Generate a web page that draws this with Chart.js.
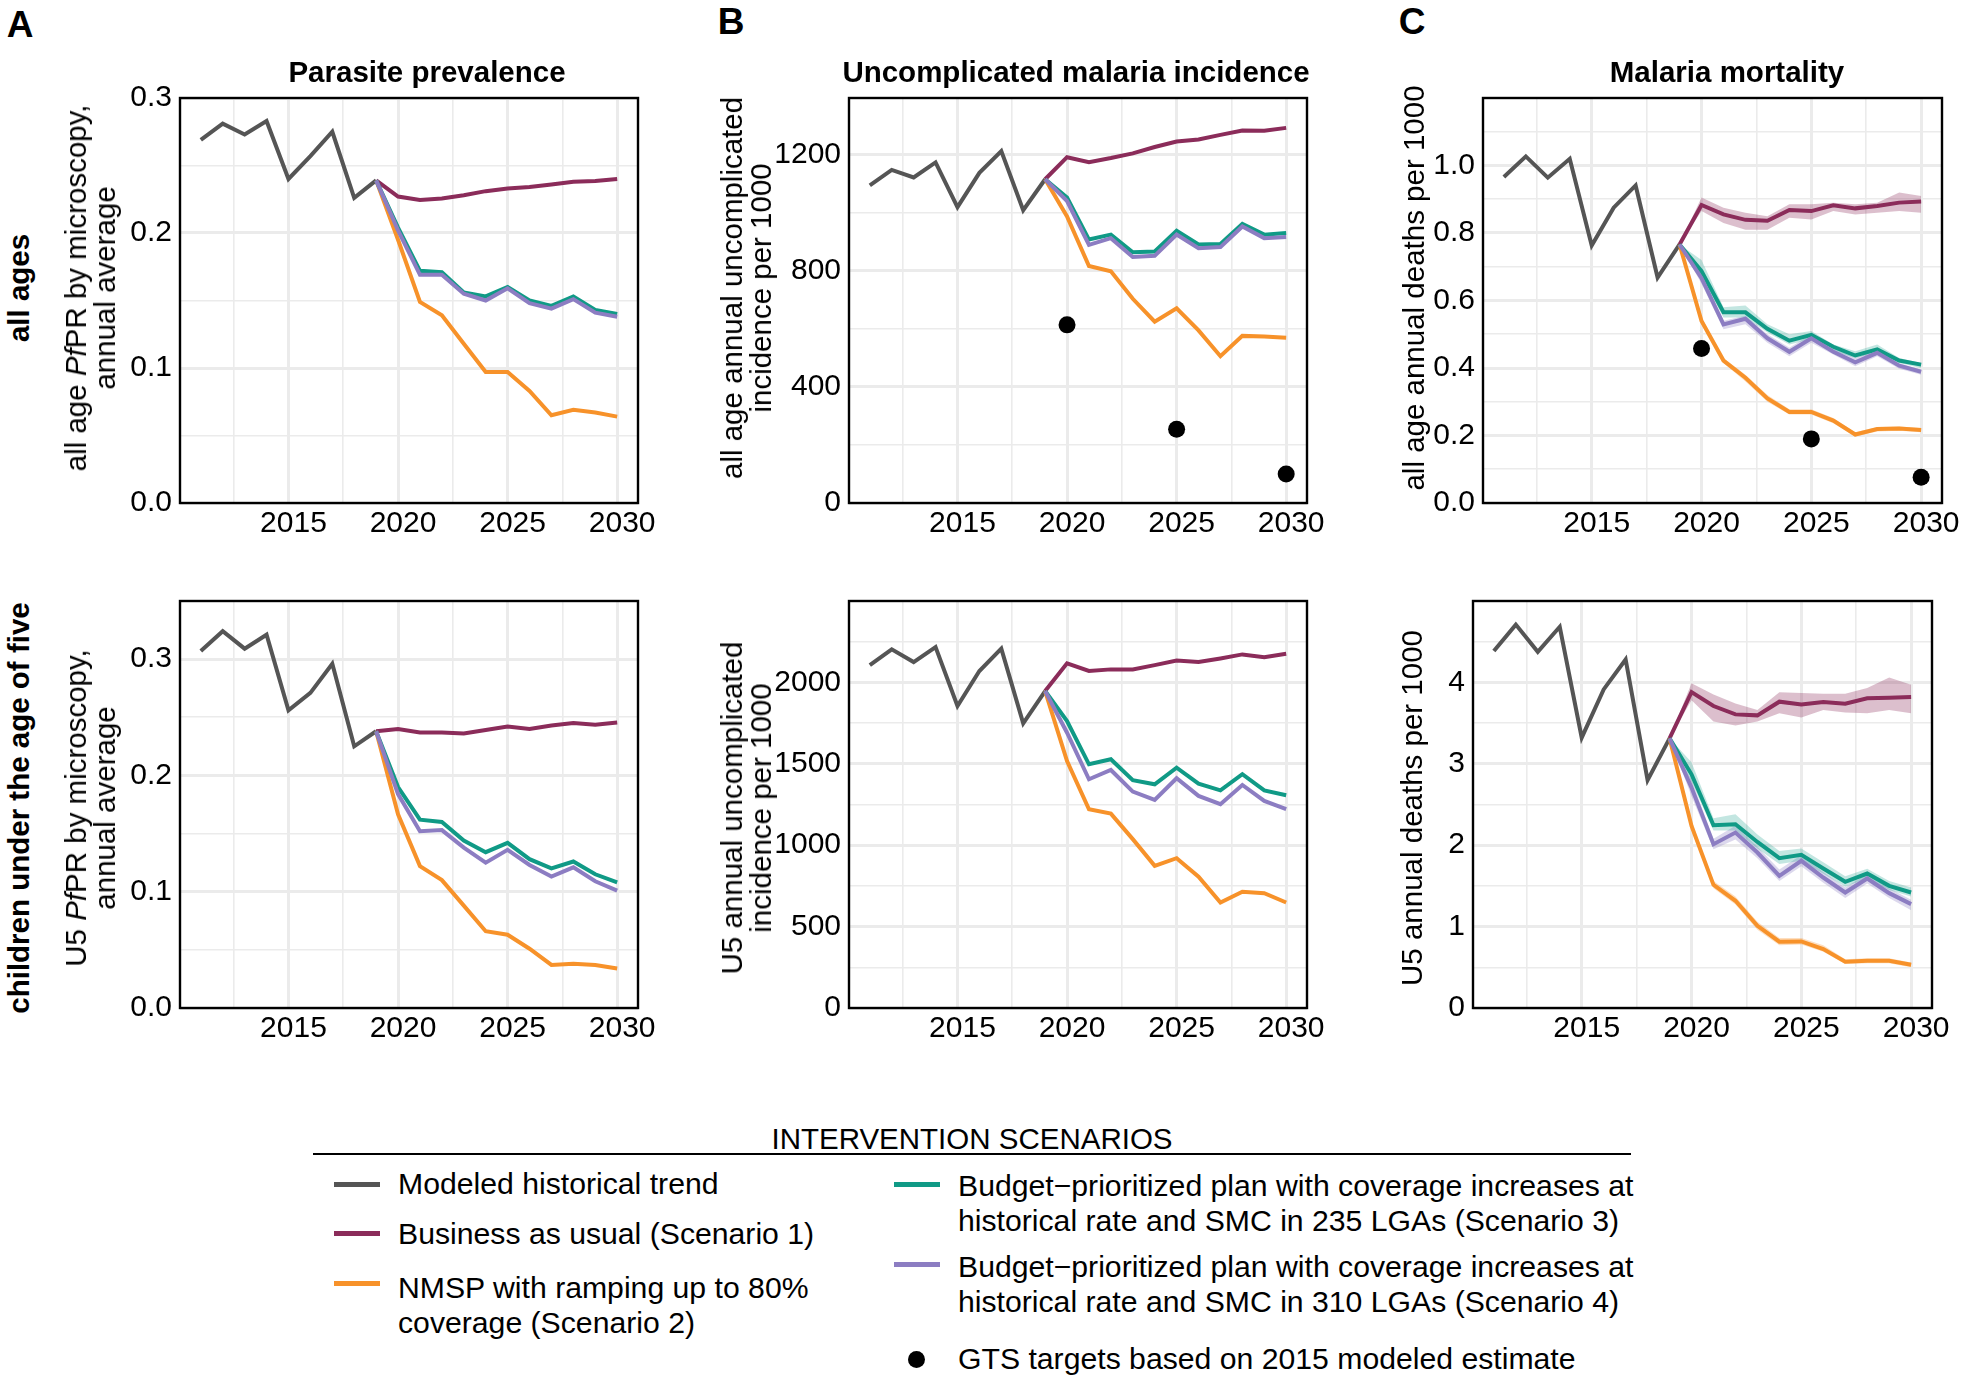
<!DOCTYPE html>
<html>
<head>
<meta charset="utf-8">
<script src="https://cdn.jsdelivr.net/npm/chart.js@4.4.1/dist/chart.umd.min.js"></script>
<style>
  body { margin: 0; background: #fff; }
  #fig { position: relative; width: 1961px; height: 1378px; background: #fff; overflow: hidden;
         font-family: "Liberation Sans", Arial, sans-serif; color: #000; }
  .t { position: absolute; white-space: nowrap; transform: translate(-50%, -50%); line-height: 1; }
  .letter { font-weight: bold; font-size: 37px; }
  .ptitle { font-weight: bold; font-size: 29.5px; }
  .ylab { font-size: 29.5px; line-height: 29px; text-align: center; transform: translate(-50%, -50%) rotate(-90deg); }
  .rowlab { font-weight: bold; font-size: 29.5px; transform: translate(-50%, -50%) rotate(-90deg); }
  .panel { position: absolute; }
  .key { position: absolute; height: 5px; width: 46px; }
  .leg { position: absolute; font-size: 30.2px; line-height: 35px; white-space: nowrap; }
</style>
</head>
<body>
<div id="fig">
  <div class="t letter" style="left:20px;top:24px">A</div>
  <div class="t letter" style="left:731px;top:21px">B</div>
  <div class="t letter" style="left:1412px;top:21px">C</div>

  <div class="t ptitle" style="left:427px;top:72px">Parasite prevalence</div>
  <div class="t ptitle" style="left:1076px;top:72px">Uncomplicated malaria incidence</div>
  <div class="t ptitle" style="left:1727px;top:72px">Malaria mortality</div>

  <div class="t rowlab" style="left:19px;top:288px">all ages</div>
  <div class="t rowlab" style="left:19px;top:808px">children under the age of five</div>

  <div class="t ylab" style="left:90px;top:288px">all age <i>Pf</i>PR by microscopy,<br>annual average</div>
  <div class="t ylab" style="left:746px;top:288px">all age annual uncomplicated<br>incidence per 1000</div>
  <div class="t ylab" style="left:1413px;top:288px">all age annual deaths per 1000</div>
  <div class="t ylab" style="left:90px;top:808px">U5 <i>Pf</i>PR by microscopy,<br>annual average</div>
  <div class="t ylab" style="left:746px;top:808px">U5 annual uncomplicated<br>incidence per 1000</div>
  <div class="t ylab" style="left:1411px;top:808px">U5 annual deaths per 1000</div>

  <div class="t" style="left:972px;top:1139px;font-size:29.5px">INTERVENTION SCENARIOS</div>
  <div style="position:absolute;left:313px;top:1153px;width:1318px;height:2px;background:#000"></div>

  <div class="key" style="left:334px;top:1182px;background:#555555"></div>
  <div class="leg" style="left:398px;top:1166px">Modeled historical trend</div>
  <div class="key" style="left:334px;top:1231px;background:#8b2c5a"></div>
  <div class="leg" style="left:398px;top:1216px">Business as usual (Scenario 1)</div>
  <div class="key" style="left:334px;top:1281px;background:#f7922a"></div>
  <div class="leg" style="left:398px;top:1270px">NMSP with ramping up to 80%<br>coverage (Scenario 2)</div>

  <div class="key" style="left:894px;top:1182px;background:#109a86"></div>
  <div class="leg" style="left:958px;top:1168px">Budget&minus;prioritized plan with coverage increases at<br>historical rate and SMC in 235 LGAs (Scenario 3)</div>
  <div class="key" style="left:894px;top:1262px;background:#8c7dc2"></div>
  <div class="leg" style="left:958px;top:1249px">Budget&minus;prioritized plan with coverage increases at<br>historical rate and SMC in 310 LGAs (Scenario 4)</div>
  <div style="position:absolute;left:908px;top:1351px;width:17px;height:17px;border-radius:50%;background:#000"></div>
  <div class="leg" style="left:958px;top:1341px">GTS targets based on 2015 modeled estimate</div>
</div>

<script>
// years
const histYears = [2011, 2012, 2013, 2014, 2015, 2016, 2017, 2018, 2019];
const scenYears = [2019, 2020, 2021, 2022, 2023, 2024, 2025, 2026, 2027, 2028, 2029, 2030];
const targetYears = [2020, 2025, 2030];

// x axis ticks
const xMajor = [2015, 2020, 2025, 2030];
const xMajorLabels = ["2015", "2020", "2025", "2030"];
const xMinor = [2012.5, 2017.5, 2022.5, 2027.5];

// parasite prevalence, all ages
const prevAllHist = [0.269, 0.281, 0.273, 0.283, 0.240, 0.257, 0.275, 0.226, 0.239];
const prevAllBau = [0.239, 0.227, 0.2245, 0.2255, 0.228, 0.231, 0.233, 0.234, 0.236, 0.238, 0.2385, 0.240];
const prevAllS2 = [0.239, 0.195, 0.149, 0.139, 0.118, 0.097, 0.097, 0.083, 0.065, 0.069, 0.067, 0.064];
const prevAllS3 = [0.239, 0.204, 0.172, 0.171, 0.156, 0.153, 0.160, 0.150, 0.146, 0.153, 0.143, 0.140];
const prevAllS4 = [0.239, 0.202, 0.169, 0.169, 0.155, 0.150, 0.159, 0.148, 0.144, 0.151, 0.141, 0.138];
const prevAllTicks = [0, 0.1, 0.2, 0.3];
const prevAllTickLabels = ["0.0", "0.1", "0.2", "0.3"];
const prevAllMinor = [0.05, 0.15, 0.25];

// uncomplicated incidence, all ages
const incAllHist = [1095, 1148, 1122, 1174, 1020, 1138, 1213, 1009, 1116];
const incAllBau = [1116, 1192, 1175, 1189, 1205, 1227, 1246, 1253, 1269, 1284, 1283, 1293];
const incAllS2 = [1116, 988, 817, 799, 704, 625, 671, 595, 506, 576, 574, 570];
const incAllS3 = [1116, 1053, 908, 925, 864, 867, 938, 891, 893, 962, 925, 931];
const incAllS4 = [1116, 1041, 890, 913, 848, 852, 925, 878, 882, 953, 913, 917];
const incAllTarget = [614, 254, 100];
const incAllTicks = [0, 400, 800, 1200];
const incAllTickLabels = ["0", "400", "800", "1200"];
const incAllMinor = [200, 600, 1000];

// mortality, all ages
const mortAllHist = [0.966, 1.027, 0.964, 1.020, 0.763, 0.875, 0.941, 0.668, 0.766];
const mortAllBau = [0.766, 0.883, 0.855, 0.839, 0.836, 0.868, 0.865, 0.882, 0.873, 0.880, 0.890, 0.893];
const mortAllS2 = [0.766, 0.539, 0.422, 0.371, 0.310, 0.270, 0.270, 0.244, 0.203, 0.219, 0.221, 0.216];
const mortAllS3 = [0.766, 0.687, 0.565, 0.565, 0.516, 0.481, 0.498, 0.463, 0.437, 0.455, 0.422, 0.410];
const mortAllS4 = [0.766, 0.666, 0.529, 0.546, 0.488, 0.448, 0.488, 0.448, 0.417, 0.445, 0.407, 0.389];
const mortAllBauLo = [0.766, 0.865, 0.830, 0.810, 0.810, 0.845, 0.840, 0.865, 0.855, 0.860, 0.865, 0.860];
const mortAllBauHi = [0.766, 0.905, 0.875, 0.860, 0.850, 0.885, 0.885, 0.890, 0.885, 0.890, 0.920, 0.910];
const mortAllS2Lo = [0.766, 0.530, 0.415, 0.360, 0.300, 0.262, 0.262, 0.236, 0.197, 0.212, 0.214, 0.210];
const mortAllS2Hi = [0.766, 0.550, 0.430, 0.380, 0.320, 0.278, 0.278, 0.252, 0.210, 0.225, 0.227, 0.222];
const mortAllS3Lo = [0.766, 0.670, 0.550, 0.550, 0.505, 0.470, 0.485, 0.450, 0.430, 0.445, 0.415, 0.400];
const mortAllS3Hi = [0.766, 0.720, 0.580, 0.585, 0.530, 0.500, 0.510, 0.470, 0.450, 0.470, 0.430, 0.415];
const mortAllS4Lo = [0.766, 0.650, 0.515, 0.530, 0.475, 0.435, 0.475, 0.440, 0.405, 0.435, 0.398, 0.380];
const mortAllS4Hi = [0.766, 0.680, 0.540, 0.555, 0.500, 0.460, 0.500, 0.460, 0.430, 0.455, 0.415, 0.395];
const mortAllTarget = [0.458, 0.190, 0.076];
const mortAllTicks = [0, 0.2, 0.4, 0.6, 0.8, 1.0];
const mortAllTickLabels = ["0.0", "0.2", "0.4", "0.6", "0.8", "1.0"];
const mortAllMinor = [0.1, 0.3, 0.5, 0.7, 0.9, 1.1];

// parasite prevalence, under five
const prevU5Hist = [0.307, 0.324, 0.309, 0.321, 0.256, 0.271, 0.296, 0.225, 0.238];
const prevU5Bau = [0.238, 0.240, 0.237, 0.237, 0.236, 0.239, 0.242, 0.240, 0.243, 0.245, 0.2435, 0.2455];
const prevU5S2 = [0.238, 0.1665, 0.122, 0.110, 0.088, 0.066, 0.063, 0.051, 0.037, 0.038, 0.037, 0.034];
const prevU5S3 = [0.238, 0.190, 0.162, 0.160, 0.144, 0.134, 0.142, 0.128, 0.120, 0.126, 0.115, 0.108];
const prevU5S4 = [0.238, 0.184, 0.152, 0.153, 0.138, 0.125, 0.136, 0.123, 0.113, 0.121, 0.109, 0.101];
const prevU5Ticks = [0, 0.1, 0.2, 0.3];
const prevU5TickLabels = ["0.0", "0.1", "0.2", "0.3"];
const prevU5Minor = [0.05, 0.15, 0.25];

// uncomplicated incidence, under five
const incU5Hist = [2106, 2203, 2125, 2217, 1855, 2070, 2207, 1749, 1947];
const incU5Bau = [1947, 2117, 2070, 2080, 2080, 2106, 2135, 2125, 2147, 2172, 2155, 2176];
const incU5S2 = [1947, 1517, 1221, 1194, 1037, 873, 920, 806, 648, 714, 705, 648];
const incU5S3 = [1947, 1763, 1497, 1528, 1399, 1374, 1476, 1378, 1337, 1436, 1337, 1307];
const incU5S4 = [1947, 1691, 1405, 1462, 1329, 1278, 1411, 1303, 1252, 1370, 1272, 1221];
const incU5Ticks = [0, 500, 1000, 1500, 2000];
const incU5TickLabels = ["0", "500", "1000", "1500", "2000"];
const incU5Minor = [250, 750, 1250, 1750, 2250];

// mortality, under five
const mortU5Hist = [4.385, 4.710, 4.376, 4.683, 3.321, 3.914, 4.282, 2.800, 3.313];
const mortU5Bau = [3.313, 3.881, 3.710, 3.607, 3.595, 3.763, 3.730, 3.759, 3.738, 3.804, 3.812, 3.820];
const mortU5S2 = [3.313, 2.237, 1.513, 1.317, 1.010, 0.814, 0.818, 0.724, 0.569, 0.581, 0.581, 0.532];
const mortU5S3 = [3.313, 2.871, 2.245, 2.258, 2.040, 1.840, 1.881, 1.714, 1.550, 1.652, 1.501, 1.419];
const mortU5S4 = [3.313, 2.708, 2.012, 2.155, 1.910, 1.624, 1.808, 1.603, 1.419, 1.591, 1.411, 1.276];
const mortU5BauLo = [3.313, 3.78, 3.52, 3.47, 3.52, 3.62, 3.57, 3.66, 3.63, 3.62, 3.66, 3.62];
const mortU5BauHi = [3.313, 3.99, 3.85, 3.74, 3.66, 3.88, 3.87, 3.86, 3.86, 3.93, 4.06, 3.97];
const mortU5S2Lo = [3.313, 2.19, 1.47, 1.27, 0.96, 0.77, 0.78, 0.69, 0.54, 0.55, 0.55, 0.50];
const mortU5S2Hi = [3.313, 2.29, 1.56, 1.37, 1.06, 0.86, 0.86, 0.77, 0.60, 0.61, 0.61, 0.56];
const mortU5S3Lo = [3.313, 2.78, 2.18, 2.18, 1.96, 1.77, 1.81, 1.65, 1.49, 1.59, 1.45, 1.37];
const mortU5S3Hi = [3.313, 3.02, 2.33, 2.38, 2.13, 1.93, 1.96, 1.79, 1.62, 1.71, 1.56, 1.48];
const mortU5S4Lo = [3.313, 2.60, 1.95, 2.07, 1.84, 1.56, 1.74, 1.54, 1.35, 1.53, 1.35, 1.20];
const mortU5S4Hi = [3.313, 2.80, 2.08, 2.24, 1.98, 1.70, 1.88, 1.67, 1.48, 1.65, 1.47, 1.33];
const mortU5Ticks = [0, 1, 2, 3, 4];
const mortU5TickLabels = ["0", "1", "2", "3", "4"];
const mortU5Minor = [0.5, 1.5, 2.5, 3.5, 4.5];

const colors = {
  hist: "#555555",
  bau: "#8b2c5a",
  s2: "#f7922a",
  s3: "#109a86",
  s4: "#8c7dc2",
};
const bandColors = {
  bau: "rgba(139,44,90,0.30)",
  s2: "rgba(247,146,42,0.30)",
  s3: "rgba(16,154,134,0.25)",
  s4: "rgba(140,125,194,0.30)",
};

const fontFamily = '"Liberation Sans", Arial, sans-serif';
Chart.defaults.font.family = fontFamily;
Chart.defaults.color = "#000";

const padL = 110, padT = 30, padR = 40, padB = 60;

function pts(years, vals) {
  return years.map((x, i) => ({ x: x, y: vals[i] }));
}

function lineSet(years, vals, color, order) {
  return {
    data: pts(years, vals),
    borderColor: color,
    borderWidth: 4,
    pointRadius: 0,
    fill: false,
    tension: 0,
    order: order,
  };
}

function bandSet(lo, hi, color) {
  return [
    { data: pts(scenYears, lo), borderWidth: 0, borderColor: "rgba(0,0,0,0)", pointRadius: 0, fill: false, order: 10 },
    { data: pts(scenYears, hi), borderWidth: 0, borderColor: "rgba(0,0,0,0)", pointRadius: 0, fill: "-1", backgroundColor: color, order: 10 },
  ];
}

function near(list, v) {
  return list.findIndex((m) => Math.abs(m - v) < 1e-6);
}

const boxPlugin = {
  id: "box",
  afterDraw(chart) {
    const { ctx, chartArea: a } = chart;
    ctx.save();
    ctx.strokeStyle = "#000";
    ctx.lineWidth = 2.4;
    ctx.strokeRect(a.left, a.top, a.right - a.left, a.bottom - a.top);
    ctx.restore();
  },
};

function makePanel(p) {
  const [l, t, w, h] = p.box;
  const holder = document.createElement("div");
  holder.className = "panel";
  holder.style.left = l - padL + "px";
  holder.style.top = t - padT + "px";
  const canvas = document.createElement("canvas");
  canvas.width = w + padL + padR;
  canvas.height = h + padT + padB;
  holder.appendChild(canvas);
  document.getElementById("fig").insertBefore(holder, document.getElementById("fig").firstChild);

  const datasets = [];
  if (p.bands) {
    datasets.push(...bandSet(p.bands.bau[0], p.bands.bau[1], bandColors.bau));
    datasets.push(...bandSet(p.bands.s2[0], p.bands.s2[1], bandColors.s2));
    datasets.push(...bandSet(p.bands.s3[0], p.bands.s3[1], bandColors.s3));
    datasets.push(...bandSet(p.bands.s4[0], p.bands.s4[1], bandColors.s4));
  }
  datasets.push(lineSet(histYears, p.hist, colors.hist, 5));
  datasets.push(lineSet(scenYears, p.bau, colors.bau, 4));
  datasets.push(lineSet(scenYears, p.s2, colors.s2, 3));
  datasets.push(lineSet(scenYears, p.s3, colors.s3, 2));
  datasets.push(lineSet(scenYears, p.s4, colors.s4, 1));
  if (p.target) {
    datasets.push({
      data: pts(targetYears, p.target),
      showLine: false,
      pointRadius: 8.5,
      pointBackgroundColor: "#000",
      pointBorderColor: "#000",
      pointBorderWidth: 0,
      order: 0,
    });
  }

  const yAll = p.yMajor.concat(p.yMinor).sort((a, b) => a - b);
  const xAll = xMajor.concat(xMinor).sort((a, b) => a - b);

  new Chart(canvas, {
    type: "line",
    data: { datasets: datasets },
    plugins: [boxPlugin],
    options: {
      responsive: false,
      animation: false,
      events: [],
      layout: { padding: { top: padT, right: padR, left: 0, bottom: 0 } },
      plugins: { legend: { display: false }, tooltip: { enabled: false } },
      scales: {
        x: {
          type: "linear",
          min: 2010.05,
          max: 2030.95,
          afterBuildTicks: (s) => { s.ticks = xAll.map((v) => ({ value: v })); },
          afterFit: (s) => { s.height = padB; },
          border: { display: false },
          grid: {
            drawTicks: false,
            color: "#ebebeb",
            lineWidth: (c) => (near(xMajor, c.tick.value) >= 0 ? 3 : 1.6),
          },
          ticks: {
            autoSkip: false,
            maxRotation: 0,
            padding: 3,
            labelOffset: 5,
            font: { size: 30 },
            color: "#000",
            callback: (v) => { const i = near(xMajor, v); return i >= 0 ? xMajorLabels[i] : ""; },
          },
        },
        y: {
          type: "linear",
          min: 0,
          max: p.yMax,
          afterBuildTicks: (s) => { s.ticks = yAll.map((v) => ({ value: v })); },
          afterFit: (s) => { s.width = padL; },
          border: { display: false },
          grid: {
            drawTicks: false,
            color: "#ebebeb",
            lineWidth: (c) => (near(p.yMajor, c.tick.value) >= 0 ? 3 : 1.6),
          },
          ticks: {
            autoSkip: false,
            padding: 8,
            font: { size: 30 },
            color: "#000",
            callback: (v) => { const i = near(p.yMajor, v); return i >= 0 ? p.yLabels[i] : ""; },
          },
        },
      },
    },
  });
}

const panels = [
  { box: [180, 98, 458, 405], yMax: 0.3, yMajor: prevAllTicks, yLabels: prevAllTickLabels, yMinor: prevAllMinor,
    hist: prevAllHist, bau: prevAllBau, s2: prevAllS2, s3: prevAllS3, s4: prevAllS4 },
  { box: [849, 98, 458, 405], yMax: 1396, yMajor: incAllTicks, yLabels: incAllTickLabels, yMinor: incAllMinor,
    hist: incAllHist, bau: incAllBau, s2: incAllS2, s3: incAllS3, s4: incAllS4, target: incAllTarget },
  { box: [1483, 98, 459, 405], yMax: 1.2, yMajor: mortAllTicks, yLabels: mortAllTickLabels, yMinor: mortAllMinor,
    hist: mortAllHist, bau: mortAllBau, s2: mortAllS2, s3: mortAllS3, s4: mortAllS4, target: mortAllTarget,
    bands: { bau: [mortAllBauLo, mortAllBauHi], s2: [mortAllS2Lo, mortAllS2Hi], s3: [mortAllS3Lo, mortAllS3Hi], s4: [mortAllS4Lo, mortAllS4Hi] } },
  { box: [180, 601, 458, 407], yMax: 0.35, yMajor: prevU5Ticks, yLabels: prevU5TickLabels, yMinor: prevU5Minor,
    hist: prevU5Hist, bau: prevU5Bau, s2: prevU5S2, s3: prevU5S3, s4: prevU5S4 },
  { box: [849, 601, 458, 407], yMax: 2500, yMajor: incU5Ticks, yLabels: incU5TickLabels, yMinor: incU5Minor,
    hist: incU5Hist, bau: incU5Bau, s2: incU5S2, s3: incU5S3, s4: incU5S4 },
  { box: [1473, 601, 459, 407], yMax: 5, yMajor: mortU5Ticks, yLabels: mortU5TickLabels, yMinor: mortU5Minor,
    hist: mortU5Hist, bau: mortU5Bau, s2: mortU5S2, s3: mortU5S3, s4: mortU5S4,
    bands: { bau: [mortU5BauLo, mortU5BauHi], s2: [mortU5S2Lo, mortU5S2Hi], s3: [mortU5S3Lo, mortU5S3Hi], s4: [mortU5S4Lo, mortU5S4Hi] } },
];

panels.forEach(makePanel);
</script>
</body>
</html>
